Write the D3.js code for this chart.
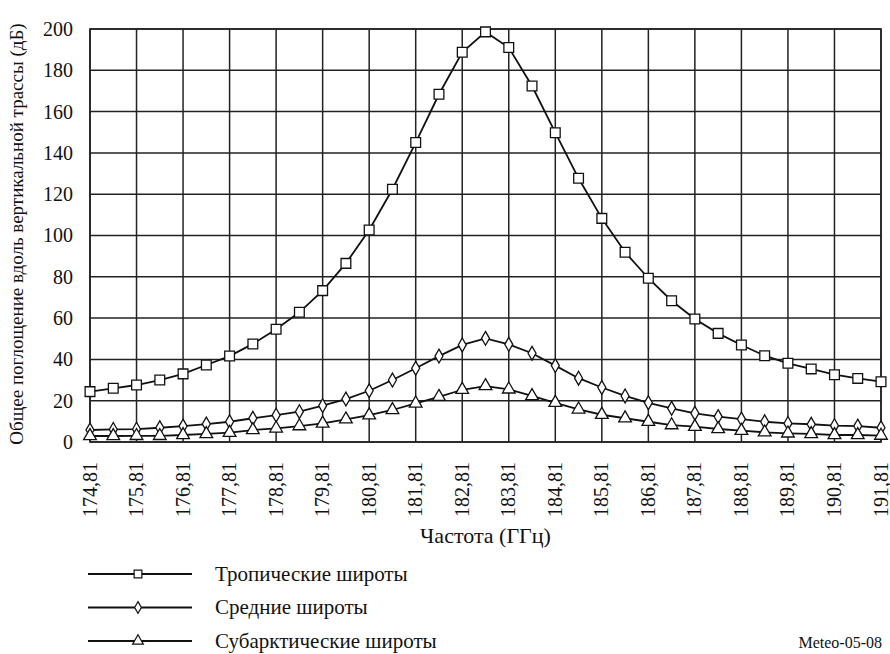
<!DOCTYPE html>
<html>
<head>
<meta charset="utf-8">
<script src="https://cdn.jsdelivr.net/npm/d3@7"></script>
<style>
  body { margin: 0; background: #fff; }
  svg text { font-family: "Liberation Serif", "Times New Roman", serif; fill: #111; }
</style>
</head>
<body>
<script>
// frequencies, GHz (step 0.5)
const freqs = d3.range(0, 35).map(i => 174.81 + i * 0.5);
const tickFreqs = d3.range(0, 18).map(i => 174.81 + i);

// total absorption along vertical path, dB
const tropical = [24.4, 26, 27.6, 30, 33, 37.3, 41.6, 47.5, 54.6, 62.8, 73.3, 86.5, 102.7, 122.4, 145, 168.4, 188.7, 198.6,
  191, 172.4, 149.8, 127.7, 108.3, 91.9, 79.3, 68.4, 59.6, 52.6, 47, 41.8, 38.1, 35.4, 32.6, 30.8, 29.2];
const midLat = [5.8, 6.1, 6.2, 6.9, 7.7, 8.7, 9.8, 11.5, 13, 14.7, 17.6, 20.8, 24.8, 30, 35.7, 41.6, 47, 50.2,
  47.3, 43, 37, 30.9, 26.4, 22.3, 19, 16.3, 13.9, 12.3, 11.1, 9.8, 9, 8.6, 7.9, 7.7, 6.9];
const subArctic = [2.9, 2.9, 3, 3, 3.4, 3.9, 4.5, 5.8, 6.6, 7.7, 9, 11, 13, 15.5, 18.7, 21.9, 25.3, 27.1,
  25.5, 22.3, 19, 15.8, 13.2, 11.5, 9.8, 8.2, 7.4, 6.3, 5.5, 4.7, 4.2, 3.9, 3.4, 3.4, 3.1];

const seriesNames = ["Тропические широты", "Средние широты", "Субарктические широты"];
const yTicks = d3.range(0, 201, 20);

const W = 890, H = 654;
const margin = {top: 29, right: 9, bottom: 212, left: 90};
const width = W - margin.left - margin.right,
      height = H - margin.top - margin.bottom;

const svg = d3.select("body").append("svg")
    .attr("width", W)
    .attr("height", H);

const g = svg.append("g")
    .attr("transform", `translate(${margin.left},${margin.top})`);

const x = d3.scaleLinear().domain([174.81, 191.81]).range([0, width]);
const y = d3.scaleLinear().domain([0, 200]).range([height, 0]);

// grid
g.append("g").selectAll("line")
    .data(yTicks)
  .enter().append("line")
    .attr("x1", 0).attr("x2", width)
    .attr("y1", d => y(d)).attr("y2", d => y(d))
    .attr("stroke", "#222").attr("stroke-width", 1.5);

g.append("g").selectAll("line")
    .data(tickFreqs)
  .enter().append("line")
    .attr("x1", d => x(d)).attr("x2", d => x(d))
    .attr("y1", 0).attr("y2", height)
    .attr("stroke", "#222").attr("stroke-width", 1.5);

g.append("rect")
    .attr("width", width).attr("height", height)
    .attr("fill", "none").attr("stroke", "#222").attr("stroke-width", 1.6);

// y axis labels
const yAxis = g.append("g")
    .call(d3.axisLeft(y).tickValues(yTicks).tickSize(0).tickPadding(17));
yAxis.select(".domain").remove();
yAxis.selectAll("text")
    .style("font-family", "Liberation Serif")
    .style("font-size", "20px");

// x axis labels (rotated)
const xAxis = g.append("g")
    .attr("transform", `translate(0,${height})`)
    .call(d3.axisBottom(x).tickValues(tickFreqs).tickSize(0)
      .tickFormat(d => d3.format(".2f")(d).replace(".", ",")));
xAxis.select(".domain").remove();
xAxis.selectAll("text")
    .style("font-family", "Liberation Serif")
    .style("font-size", "20px")
    .attr("transform", "rotate(-90)")
    .attr("text-anchor", "end")
    .attr("x", -20)
    .attr("y", 0)
    .attr("dy", "0.3em");

// axis titles
svg.append("text")
    .attr("transform", `translate(23,234) rotate(-90)`)
    .attr("text-anchor", "middle")
    .style("font-size", "19px")
    .text("Общее поглощение вдоль вертикальной трассы (дБ)");

svg.append("text")
    .attr("x", margin.left + width / 2)
    .attr("y", 543)
    .attr("text-anchor", "middle")
    .style("font-size", "22px")
    .text("Частота (ГГц)");

// series
const line = d3.line()
    .x((d, i) => x(freqs[i]))
    .y(d => y(d));

const symbols = [d3.symbolSquare, d3.symbolDiamond, d3.symbolTriangle];
const symSizes = [95, 55, 70];
const allSeries = [tropical, midLat, subArctic];

allSeries.forEach((vals, k) => {
  g.append("path")
      .datum(vals)
      .attr("d", line)
      .attr("fill", "none")
      .attr("stroke", "#111")
      .attr("stroke-width", 1.8);

  g.append("g").selectAll("path")
      .data(vals)
    .enter().append("path")
      .attr("transform", (d, i) => `translate(${x(freqs[i])},${y(d)})`)
      .attr("d", d3.symbol().type(symbols[k]).size(symSizes[k]))
      .attr("fill", "#fff")
      .attr("stroke", "#111")
      .attr("stroke-width", 1.3);
});

// legend
const legend = svg.selectAll(".legend")
    .data(seriesNames)
  .enter().append("g")
    .attr("class", "legend")
    .attr("transform", (d, i) => `translate(0,${574 + i * 33.5})`);

legend.append("line")
    .attr("x1", 88).attr("x2", 192)
    .attr("stroke", "#111").attr("stroke-width", 1.8);

legend.append("path")
    .attr("transform", "translate(138,0)")
    .attr("d", (d, i) => d3.symbol().type(symbols[i]).size([60, 40, 50][i])())
    .attr("fill", "#fff")
    .attr("stroke", "#111")
    .attr("stroke-width", 1.2);

legend.append("text")
    .attr("x", 215)
    .attr("dy", "0.33em")
    .style("font-size", "21px")
    .text(d => d);

svg.append("text")
    .attr("x", 882)
    .attr("y", 648)
    .attr("text-anchor", "end")
    .style("font-size", "16px")
    .text("Meteo-05-08");
</script>
</body>
</html>
